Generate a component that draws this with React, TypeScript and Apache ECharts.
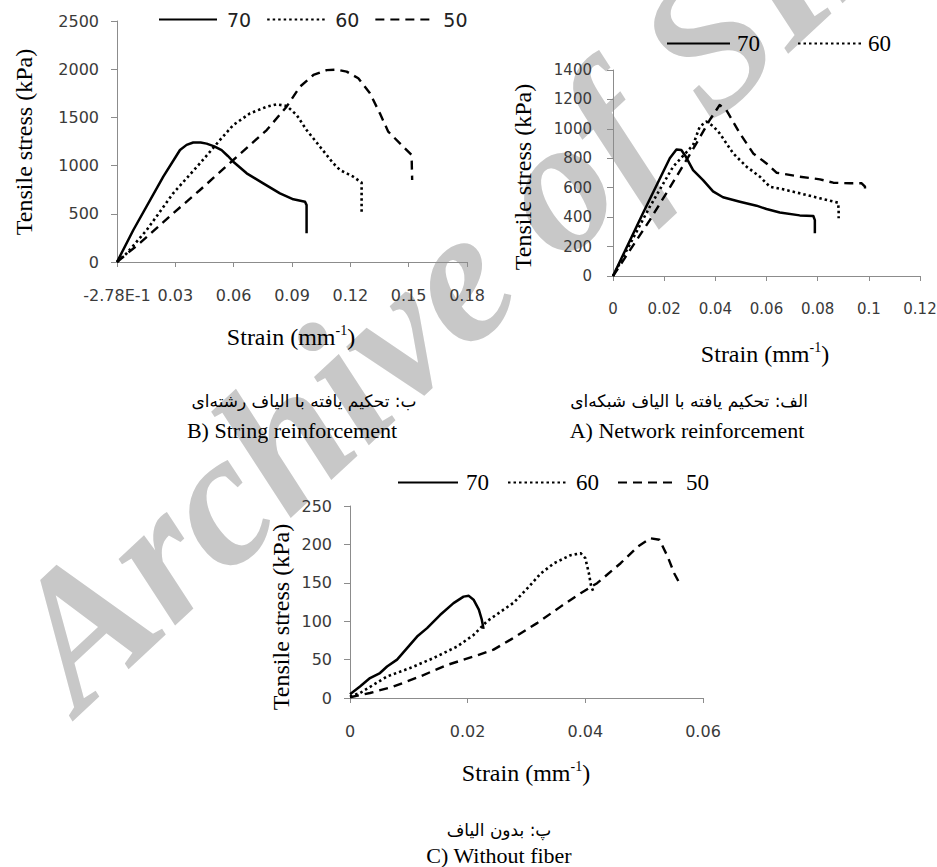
import React, { useEffect, useRef } from "react";
import * as echarts from "echarts";

const SERIF = '"Liberation Serif", "Times New Roman", serif';
const SANS = '"DejaVu Sans", Verdana, sans-serif';

// Legend / series names
const seriesNames = ["70", "60", "50"];

// B) String reinforcement  [strain, stress kPa]
const string70 = [[0, 0], [0.0084, 332], [0.0238, 885], [0.0324, 1162], [0.0358, 1215], [0.0392, 1240], [0.043, 1240], [0.0461, 1228], [0.05, 1200], [0.0538, 1160], [0.057, 1100], [0.0598, 1040], [0.0667, 920], [0.0752, 816], [0.0838, 712], [0.0907, 650], [0.0967, 626], [0.0975, 590], [0.0975, 298]];
const string60 = [[0, 0], [0.005, 90], [0.0153, 332], [0.0289, 713], [0.0427, 1024], [0.053, 1266], [0.0598, 1421], [0.0684, 1542], [0.077, 1611], [0.0821, 1636], [0.0873, 1618], [0.0924, 1525], [0.0975, 1369], [0.1044, 1196], [0.1112, 1024], [0.1147, 954], [0.1215, 885], [0.1258, 823], [0.1258, 505]];
const string50 = [[0, 0], [0.012, 200], [0.0289, 505], [0.0427, 747], [0.0598, 1058], [0.077, 1369], [0.0872, 1611], [0.0941, 1819], [0.101, 1940], [0.1078, 1990], [0.113, 1995], [0.1181, 1975], [0.1241, 1906], [0.1301, 1750], [0.1352, 1542], [0.1395, 1352], [0.1455, 1231], [0.1515, 1110], [0.1518, 851]];

// A) Network reinforcement
const network70 = [[0, 0], [0.0117, 426], [0.0222, 800], [0.0248, 860], [0.0267, 856], [0.0285, 810], [0.0313, 720], [0.0352, 652], [0.0391, 575], [0.043, 535], [0.0496, 505], [0.0561, 478], [0.06, 455], [0.0652, 432], [0.073, 412], [0.0783, 408], [0.0789, 380], [0.0789, 290]];
const network60 = [[0, 0], [0.0144, 471], [0.0235, 743], [0.0313, 890], [0.0339, 1015], [0.0365, 1049], [0.0391, 1019], [0.0417, 969], [0.047, 833], [0.0522, 743], [0.0574, 675], [0.0613, 607], [0.0665, 589], [0.073, 562], [0.0809, 528], [0.088, 498], [0.0882, 448], [0.0882, 392]];
const network50 = [[0, 0], [0.0144, 380], [0.0248, 675], [0.0326, 901], [0.0378, 1060], [0.0417, 1162], [0.0443, 1128], [0.0496, 969], [0.0548, 833], [0.06, 765], [0.0639, 702], [0.073, 675], [0.0809, 657], [0.0861, 634], [0.0926, 630], [0.0972, 630], [0.0985, 607], [0.0985, 562]];

// C) Without fiber
const plain70 = [[0, 5], [0.0017, 15], [0.0034, 26], [0.0051, 32.5], [0.0063, 41], [0.008, 50], [0.0097, 65], [0.0114, 80], [0.0131, 91], [0.0153, 108], [0.0176, 123.5], [0.0193, 132], [0.0202, 133], [0.021, 128], [0.0219, 115], [0.0224, 102], [0.0227, 90]];
const plain60 = [[0, 2], [0.0017, 6.5], [0.0063, 28], [0.0102, 39], [0.0142, 52], [0.0182, 67], [0.021, 82], [0.0233, 100], [0.0261, 115], [0.0278, 124], [0.0303, 144], [0.0324, 162], [0.0347, 175.5], [0.0375, 186], [0.0392, 188.5], [0.04, 182], [0.0406, 162.5], [0.041, 145], [0.0415, 136.5]];
const plain50 = [[0, 1], [0.0034, 6.5], [0.0074, 15], [0.0119, 28], [0.0165, 43], [0.021, 54], [0.0244, 63], [0.0273, 76], [0.0318, 97.5], [0.0358, 119], [0.0392, 136.5], [0.042, 149.5], [0.046, 175.5], [0.0489, 197], [0.0511, 208], [0.0526, 206], [0.054, 184], [0.0551, 162.5], [0.056, 149.5]];

// Axis ranges / tick labels
const xAxisMax = [0.18, 0.12, 0.06];
const xAxisStep = [0.03, 0.02, 0.02];
const yAxisMax = [2500, 1400, 250];
const yAxisStep = [500, 200, 50];
const firstTickLabelB = "-2.78E-1";

// Texts
const yTitle = "Tensile stress (kPa)";
const xTitleMain = "Strain (mm";
const xTitleSup = "-1";
const captionsFa = ["ب: تحکیم یافته با الیاف رشته\u200Cای", "الف: تحکیم یافته با الیاف شبکه\u200Cای", "پ: بدون الیاف"];
const captionsEn = ["B) String reinforcement", "A) Network reinforcement", "C) Without fiber"];
const watermark = "Archive of SID";

const AXIS_COLOR = "#8c8c8c";
const LABEL_COLOR = "#3a3a3a";

const lineTypes: any = {
  "70": { type: "solid", width: 2.5 },
  "60": { type: [2.5, 3], width: 2.6 },
  "50": { type: [9, 6], width: 2.4 },
};

function fmt(v: number) {
  return String(Number(v.toFixed(3)));
}

export default function App() {
  const ref = useRef<HTMLDivElement>(null);
  useEffect(() => {
    if (!ref.current) return;
    const chart = echarts.init(ref.current, null, { renderer: "svg" });

    const grids = [
      { left: 117, top: 21, width: 350, height: 241 },
      { left: 613, top: 70, width: 307, height: 206 },
      { left: 350, top: 506, width: 353, height: 192 },
    ];
    const labelFont = [16, 15, 16];
    const yLabelMargin = [18, 21, 18];

    const xAxis = grids.map((_, i) => ({
      gridIndex: i,
      type: "value",
      min: 0,
      max: xAxisMax[i],
      interval: xAxisStep[i],
      axisLine: { show: true, onZero: false, lineStyle: { color: AXIS_COLOR, width: 1 } },
      axisTick: { show: true, length: 5, lineStyle: { color: AXIS_COLOR } },
      splitLine: { show: false },
      axisLabel: {
        margin: 25,
        fontFamily: SANS,
        fontSize: labelFont[i],
        color: LABEL_COLOR,
        formatter: (v: number) => (i === 0 && v === 0 ? firstTickLabelB : fmt(v)),
      },
    }));
    const yAxis = grids.map((_, i) => ({
      gridIndex: i,
      type: "value",
      min: 0,
      max: yAxisMax[i],
      interval: yAxisStep[i],
      axisLine: { show: true, lineStyle: { color: AXIS_COLOR, width: 1 } },
      axisTick: { show: true, length: 6, lineStyle: { color: AXIS_COLOR } },
      splitLine: { show: false },
      axisLabel: {
        margin: yLabelMargin[i],
        fontFamily: SANS,
        fontSize: labelFont[i],
        color: LABEL_COLOR,
        formatter: (v: number) => String(v),
      },
    }));

    const dataSets = [
      [string70, string60, string50],
      [network70, network60, network50],
      [plain70, plain60, plain50],
    ];
    const series: any[] = [];
    dataSets.forEach((set, gi) => {
      set.forEach((d, si) => {
        const name = seriesNames[si];
        series.push({
          type: "line",
          name,
          xAxisIndex: gi,
          yAxisIndex: gi,
          data: d,
          symbol: "none",
          smooth: false,
          lineStyle: { color: "#000", join: "round", ...lineTypes[name] },
          itemStyle: { color: "#000" },
          silent: true,
        });
      });
    });

    const legendBase = { padding: 0, itemHeight: 14, selectedMode: false, itemStyle: { opacity: 0 } };
    const legend = [
      {
        ...legendBase, left: 158, top: 10, itemWidth: 58, itemGap: 15,
        data: ["70", "60", "50"],
        textStyle: { fontFamily: SANS, fontSize: 19, color: "#222", padding: [0, 0, 0, 5] },
      },
      {
        ...legendBase, left: 666, top: 32, itemWidth: 63, itemGap: 37,
        data: ["70", "60"],
        textStyle: { fontFamily: SERIF, fontSize: 23, color: "#000", padding: [0, 0, 0, 2] },
      },
      {
        ...legendBase, left: 397, top: 471, itemWidth: 60, itemGap: 18,
        data: ["70", "60", "50"],
        textStyle: { fontFamily: SERIF, fontSize: 23, color: "#000", padding: [0, 0, 0, 3] },
      },
    ];

    const yTitlePos = [[24, 142], [523, 177], [281, 617]];
    const xTitlePos = [[291, 337], [765, 354], [526, 773]];
    const capFaPos = [[304, 401], [689, 401], [499, 830]];
    const capEnPos = [[292, 430], [687, 430], [499, 855]];

    const graphic: any[] = [];
    const th = (43 * Math.PI) / 180;
    graphic.push({
      type: "text",
      x: 36,
      y: 668,
      rotation: th,
      z: -10,
      silent: true,
      style: {
        text: watermark,
        font: `italic bold 190px ${SERIF}`,
        fill: "#c8c8c8",
        textAlign: "left",
        textVerticalAlign: "middle",
        verticalAlign: "middle",
      },
    });
    yTitlePos.forEach(([x, y]) => {
      graphic.push({
        type: "text", x, y, rotation: Math.PI / 2, z: 10, silent: true,
        style: { text: yTitle, font: `24px ${SERIF}`, fill: "#000", textAlign: "center", textVerticalAlign: "middle", verticalAlign: "middle" },
      });
    });
    xTitlePos.forEach(([x, y]) => {
      graphic.push({
        type: "text", x, y, z: 10, silent: true,
        style: {
          text: `{a|${xTitleMain}}{b|${xTitleSup}}{a|)}`,
          textAlign: "center",
          textVerticalAlign: "middle",
          verticalAlign: "middle",
          rich: {
            a: { fontSize: 24, fontFamily: SERIF, fill: "#000", lineHeight: 28, verticalAlign: "middle" },
            b: { fontSize: 14, fontFamily: SERIF, fill: "#000", lineHeight: 14, verticalAlign: "top" },
          },
        },
      });
    });
    capFaPos.forEach(([x, y], i) => {
      graphic.push({
        type: "text", x, y, z: 10, silent: true,
        style: { text: captionsFa[i], font: `17px ${SANS}`, fill: "#000", textAlign: "center", textVerticalAlign: "middle", verticalAlign: "middle" },
      });
    });
    capEnPos.forEach(([x, y], i) => {
      graphic.push({
        type: "text", x, y, z: 10, silent: true,
        style: { text: captionsEn[i], font: `22px ${SERIF}`, fill: "#000", textAlign: "center", textVerticalAlign: "middle", verticalAlign: "middle" },
      });
    });

    chart.setOption({
      animation: false,
      backgroundColor: "#fff",
      grid: grids.map((g) => ({ ...g, containLabel: false, outerBoundsMode: "none" })),
      xAxis,
      yAxis,
      legend,
      series,
      graphic,
    });
    return () => chart.dispose();
  }, []);
  return (
    <div
      ref={ref}
      style={{ position: "absolute", left: 0, top: 0, width: 937, height: 867, background: "#fff" }}
    />
  );
}
